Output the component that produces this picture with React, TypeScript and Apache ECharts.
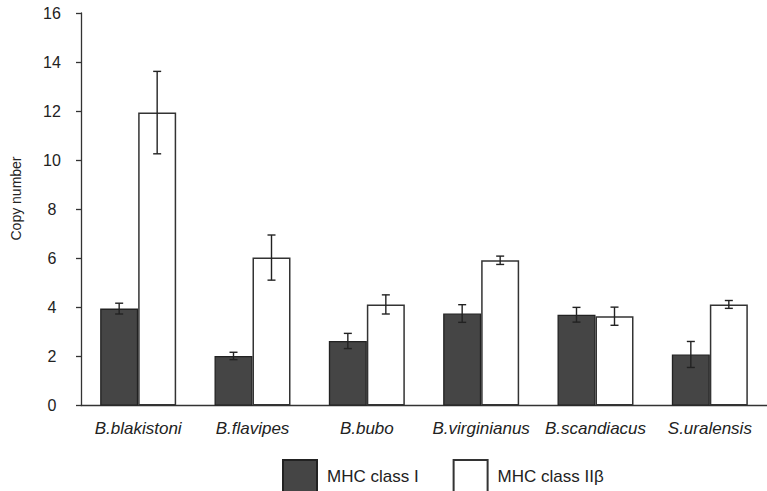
import React, { useEffect, useRef } from "react";
import * as echarts from "echarts";

const species = ["B.blakistoni", "B.flavipes", "B.bubo", "B.virginianus", "B.scandiacus", "S.uralensis"];
const classI = [3.95, 2.02, 2.63, 3.75, 3.7, 2.08];
const classIErr = [0.22, 0.15, 0.31, 0.36, 0.3, 0.53];
const classII = [11.94, 6.03, 4.12, 5.92, 3.64, 4.12];
const classIIErr = [1.68, 0.92, 0.39, 0.17, 0.37, 0.16];
const seriesNames = ["MHC class I", "MHC class IIβ"];
const yTicks = { min: 0, max: 16, interval: 2 };

const FONT = "'Liberation Sans', Arial, 'Noto Sans', sans-serif";
const BAR_W = 38;

function errorSeries(values: number[], errs: number[], side: number) {
  return {
    type: "custom",
    z: 10,
    silent: true,
    data: values.map((v, i) => [i, v, errs[i]]),
    encode: { x: 0, y: 1 },
    renderItem: (params: any, api: any) => {
      const idx = api.value(0);
      const v = api.value(1);
      const e = api.value(2);
      const top = api.coord([idx, v + e]);
      const bot = api.coord([idx, v - e]);
      const x = top[0] + (side * BAR_W) / 2;
      const cap = 4;
      const style = { stroke: "#222", lineWidth: 1.4 };
      return {
        type: "group",
        children: [
          { type: "line", shape: { x1: x, y1: top[1], x2: x, y2: bot[1] }, style },
          { type: "line", shape: { x1: x - cap, y1: top[1], x2: x + cap, y2: top[1] }, style },
          { type: "line", shape: { x1: x - cap, y1: bot[1], x2: x + cap, y2: bot[1] }, style },
        ],
      };
    },
  };
}

export default function App() {
  const ref = useRef<HTMLDivElement>(null);
  useEffect(() => {
    if (!ref.current) return;
    const chart = echarts.init(ref.current, null, { renderer: "svg" });
    chart.setOption({
      animation: false,
      backgroundColor: "#ffffff",
      textStyle: { fontFamily: FONT },
      grid: { left: 81, top: 13, width: 692, height: 392.5, containLabel: false },
      legend: {
        data: seriesNames,
        left: 282,
        top: 459,
        padding: 0,
        itemWidth: 34,
        itemHeight: 32,
        itemGap: 34,
        icon: "rect",
        textStyle: { fontSize: 17, lineHeight: 18, color: "#222", fontFamily: FONT, padding: [4, 0, 0, 5] },
      },
      xAxis: {
        type: "category",
        data: species,
        axisLine: { lineStyle: { color: "#333", width: 1.3 } },
        axisTick: { show: false },
        axisLabel: {
          fontSize: 17,
          fontStyle: "italic",
          color: "#222",
          fontFamily: FONT,
          margin: 14,
          interval: 0,
        },
      },
      yAxis: {
        type: "value",
        min: yTicks.min,
        max: yTicks.max,
        interval: yTicks.interval,
        splitLine: { show: false },
        axisLine: { show: true, lineStyle: { color: "#333", width: 1.3 } },
        axisTick: { show: true, length: 5, lineStyle: { color: "#333", width: 1.3 } },
        axisLabel: { fontSize: 16, color: "#222", fontFamily: FONT, align: "center", margin: 29 },
      },
      graphic: [
        {
          type: "text",
          x: 16,
          y: 198.5,
          rotation: Math.PI / 2,
          style: {
            text: "Copy number",
            fontSize: 14,
            fontFamily: FONT,
            fill: "#222",
            align: "center",
            verticalAlign: "middle",
          },
        },
      ],
      series: [
        {
          name: seriesNames[0],
          type: "bar",
          data: classI,
          barWidth: BAR_W,
          barGap: "0%",
          itemStyle: { color: "#454545", borderColor: "#222", borderWidth: 1.3 },
        },
        {
          name: seriesNames[1],
          type: "bar",
          data: classII,
          barWidth: BAR_W,
          barGap: "0%",
          itemStyle: { color: "#ffffff", borderColor: "#333", borderWidth: 1.5 },
        },
        errorSeries(classI, classIErr, -1),
        errorSeries(classII, classIIErr, 1),
      ],
    });
    return () => chart.dispose();
  }, []);
  return (
    <div
      ref={ref}
      style={{ position: "absolute", left: 0, top: 0, width: 767, height: 491 }}
    />
  );
}
